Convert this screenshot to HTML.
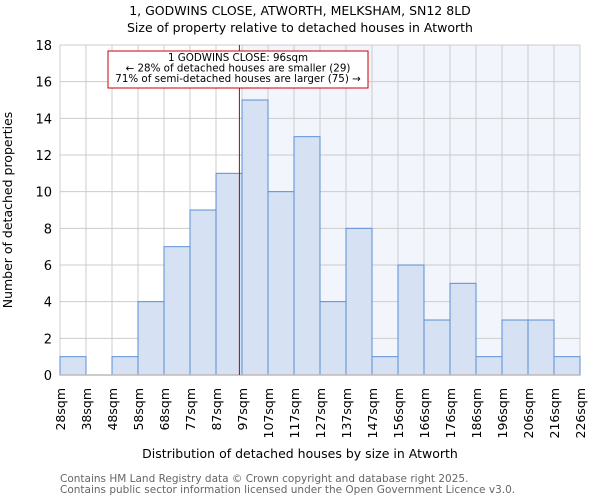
<!DOCTYPE html>
<html><head><meta charset="utf-8"><style>body{margin:0;background:#fff}svg{display:block;font-family:"DejaVu Sans","Liberation Sans",sans-serif}</style></head>
<body>
<svg id="c" width="600" height="500" xmlns="http://www.w3.org/2000/svg">
<text x="300" y="15" font-size="12.5" text-anchor="middle">1, GODWINS CLOSE, ATWORTH, MELKSHAM, SN12 8LD</text>
<text x="300" y="32" font-size="12.5" text-anchor="middle">Size of property relative to detached houses in Atworth</text>
<g id="plot"></g>
<text x="300" y="458" font-size="12.5" text-anchor="middle">Distribution of detached houses by size in Atworth</text>
<text transform="translate(12,210) rotate(-90)" font-size="12.5" text-anchor="middle">Number of detached properties</text>
<text x="60" y="482" font-size="10.5" fill="#666">Contains HM Land Registry data © Crown copyright and database right 2025.</text>
<text x="60" y="493" font-size="10.5" fill="#666">Contains public sector information licensed under the Open Government Licence v3.0.</text>
</svg>
<script>
const categories=["28sqm","38sqm","48sqm","58sqm","68sqm","77sqm","87sqm","97sqm","107sqm","117sqm","127sqm","137sqm","147sqm","156sqm","166sqm","176sqm","186sqm","196sqm","206sqm","216sqm","226sqm"];
const counts=[1,0,1,4,7,9,11,15,10,13,4,8,1,6,3,5,1,3,3,1];
const yTicks=[0,2,4,6,8,10,12,14,16,18];
const markerBin=6.9;
const NS="http://www.w3.org/2000/svg";
const L=60,R=580,T=45,B=375,n=counts.length;
const bw=(R-L)/n;
const x=i=>L+i*bw;
const y=v=>B-(v/18)*(B-T);
const g=document.getElementById('plot');
function mk(t,a){const e=document.createElementNS(NS,t);for(const k in a)e.setAttribute(k,a[k]);g.appendChild(e);return e;}
let e=mk('rect',{x:x(7),y:T,width:R-x(7),height:B-T,fill:'#f2f5fc'});


for(let i=0;i<=n;i++){e=mk('line',{x1:x(i),x2:x(i),y1:T,y2:B,stroke:'#cccccc','stroke-width':1});

}
yTicks.forEach(v=>{e=mk('line',{x1:L,x2:R,y1:y(v),y2:y(v),stroke:'#cccccc','stroke-width':1});


e=mk('text',{x:L-8,y:y(v)+5,'font-size':13,'text-anchor':'end'});e.textContent=v;

});
counts.forEach((v,i)=>{if(v<=0)return;e=mk('rect',{x:x(i),y:y(v),width:bw,height:B-y(v),fill:'#d6e1f3',stroke:'#5b8fd6','stroke-width':1});

});
categories.forEach((c,i)=>{e=mk('text',{transform:`translate(${x(i)+5},388) rotate(-90)`,'font-size':12.5,'text-anchor':'end'});e.textContent=c;

});
e=mk('line',{x1:L,x2:R,y1:B,y2:B,stroke:'#bbb','stroke-width':1.5});


const mx=x(markerBin);
e=mk('line',{x1:mx,x2:mx,y1:T,y2:B,stroke:'#bb0000','stroke-width':1});


e=mk('rect',{x:108,y:51,width:260,height:37,fill:'#fff',stroke:'#cc0000','stroke-width':1});


["1 GODWINS CLOSE: 96sqm","← 28% of detached houses are smaller (29)","71% of semi-detached houses are larger (75) →"].forEach((t,k)=>{e=mk('text',{x:238,y:61+k*10.5,'font-size':10.3,'text-anchor':'middle'});e.textContent=t;

});
</script>
</body></html>
